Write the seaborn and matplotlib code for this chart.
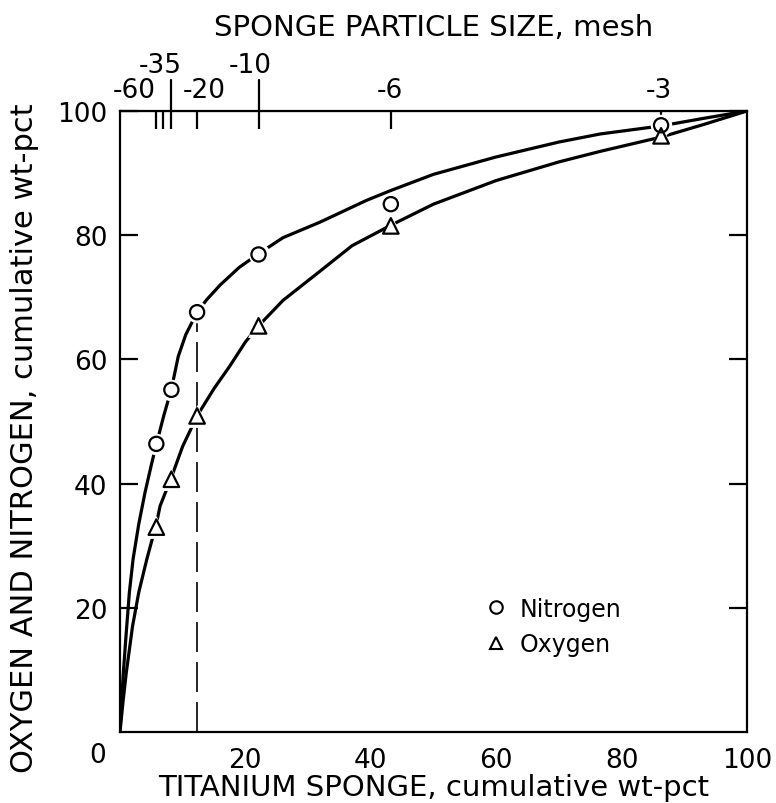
import matplotlib
matplotlib.use("Agg")
import matplotlib.pyplot as plt
import seaborn as sns
from matplotlib.lines import Line2D

# Measured points: cumulative wt-pct of sponge retained at each sieve
sponge_pct = [5.8, 8.2, 12.3, 22.1, 43.2, 86.3]
nitrogen_pct = [46.4, 55.1, 67.6, 76.9, 85.0, 97.7]
oxygen_pct = [33.0, 40.7, 50.9, 65.4, 81.5, 96.0]

# Hand drawn curves
nitrogen_curve_x = [0, 0.5, 1.0, 1.5, 2.1, 3.0, 4.0, 5.0, 5.8, 7.0, 8.2, 9.3, 10.5,
                    12.3, 13.9, 16, 19, 22.1, 26, 31.9, 39.3, 43.2, 50, 60, 70,
                    76.6, 86.3, 93, 100]
nitrogen_curve_y = [0, 9, 16, 22.5, 27.9, 33.5, 38.6, 43, 46.3, 51, 55.2, 60.5, 64.0,
                    67.6, 69.7, 72, 74.8, 77, 79.6, 82.1, 85.6, 87.2, 89.8, 92.6, 95.0,
                    96.3, 97.6, 98.8, 100]
oxygen_curve_x = [0, 0.5, 1.0, 2.0, 3.0, 4.3, 5.8, 6.4, 8.2, 10, 12.3, 15, 17.5, 20,
                  22.1, 26, 31.9, 37, 43.2, 50, 60, 70, 76.6, 86.3, 93, 100]
oxygen_curve_y = [0, 5, 9.5, 17, 22.5, 27.9, 33.5, 36.4, 41, 46, 50.9, 55.3, 58.9, 62.8,
                  65.4, 69.5, 74.2, 78.3, 81.6, 85.0, 88.8, 91.8, 93.5, 95.8, 97.8, 100]

# Top axis: sponge particle size in mesh
mesh_ticks = [5.8, 6.9, 8.2, 12.3, 22.1, 43.2, 86.3]
long_ticks = [8.2, 22.1]
mesh_labels = ['-60', '-35', '-20', '-10', '-6', '-3']
mesh_label_x = [2.3, 6.4, 13.4, 20.7, 43.0, 86.0]
mesh_label_row = [0, 1, 0, 1, 0, 0]

x_ticks = [20, 40, 60, 80, 100]
y_ticks = [20, 40, 60, 80, 100]

sns.set_style("white")
plt.rcParams['font.family'] = ['DejaVu Sans']
plt.rcParams['text.color'] = 'black'
plt.rcParams['axes.labelcolor'] = 'black'
plt.rcParams['xtick.color'] = 'black'
plt.rcParams['ytick.color'] = 'black'

fig = plt.figure(figsize=(7.76, 8.04), dpi=100)
ax = fig.add_axes([0.1546, 0.0883, 0.808, 0.7724])

# curves
sns.lineplot(x=nitrogen_curve_x, y=nitrogen_curve_y, color='black', lw=2.3,
             sort=False, estimator=None, ax=ax, zorder=2)
sns.lineplot(x=oxygen_curve_x, y=oxygen_curve_y, color='black', lw=2.3,
             sort=False, estimator=None, ax=ax, zorder=2)

# dashed line at -20 mesh
ax.vlines(sponge_pct[2], 0, nitrogen_pct[2], colors='black', lw=1.2,
          linestyles=(0, (18, 6)), zorder=1)

# white halo so the curves break around the points
sns.scatterplot(x=sponge_pct, y=nitrogen_pct, marker='o', s=240, color='white',
                linewidth=0, ax=ax, zorder=3)
sns.scatterplot(x=sponge_pct, y=oxygen_pct, marker='^', s=270, color='white',
                linewidth=0, ax=ax, zorder=3)
sns.scatterplot(x=sponge_pct, y=nitrogen_pct, marker='o', s=105, facecolor='none',
                edgecolor='black', linewidth=1.6, ax=ax, zorder=4)
sns.scatterplot(x=sponge_pct, y=oxygen_pct, marker='^', s=125, facecolor='none',
                edgecolor='black', linewidth=1.6, ax=ax, zorder=4)

ax.set_xlim(0, 100)
ax.set_ylim(0, 100)

# axes look
for side in ['left', 'right', 'top', 'bottom']:
    ax.spines[side].set_visible(True)
    ax.spines[side].set_linewidth(1.6)
    ax.spines[side].set_color('black')

ax.set_xticks(x_ticks)
ax.set_xticklabels([str(v) for v in x_ticks], fontsize=19)
ax.set_yticks(y_ticks)
ax.set_yticklabels([str(v) for v in y_ticks], fontsize=19)
ax.tick_params(axis='x', length=0, pad=11)
ax.tick_params(axis='y', which='both', direction='in', length=13, width=1.6,
               left=True, right=True, pad=9)
ax.text(-0.035, -0.037, '0', transform=ax.transAxes, fontsize=19,
        ha='center', va='center')

# top mesh axis
top = ax.secondary_xaxis('top')
top.set_xticks(mesh_ticks)
top.set_xticklabels([''] * len(mesh_ticks))
top.tick_params(direction='in', length=13, width=1.6)
for xv in long_ticks:
    ax.plot([xv, xv], [1.0, 1.05], color='black', lw=1.6,
            transform=ax.get_xaxis_transform(), clip_on=False)
for lab, xv, row in zip(mesh_labels, mesh_label_x, mesh_label_row):
    ax.annotate(lab, xy=(xv, 1.0), xycoords=ax.get_xaxis_transform(),
                xytext=(0, 15 + 18 * row), textcoords='offset points',
                ha='center', va='center', fontsize=19)

ax.text(0.5, 1.135, 'SPONGE PARTICLE SIZE, mesh', transform=ax.transAxes,
        ha='center', va='center', fontsize=21)
ax.set_xlabel('TITANIUM SPONGE, cumulative wt-pct', fontsize=21, va='baseline')
ax.xaxis.set_label_coords(0.5, -0.102)
ax.set_ylabel('OXYGEN AND NITROGEN, cumulative wt-pct', fontsize=22, va='center')
ax.yaxis.set_label_coords(-0.152, 0.475)

# legend
handles = [Line2D([], [], ls='none', marker='o', markersize=9, markerfacecolor='none',
                  markeredgecolor='black', markeredgewidth=1.5, label='Nitrogen'),
           Line2D([], [], ls='none', marker='^', markersize=9, markerfacecolor='none',
                  markeredgecolor='black', markeredgewidth=1.5, label='Oxygen')]
ax.legend(handles=handles, loc='center left', bbox_to_anchor=(0.584, 0.17),
          frameon=False, fontsize=17, handlelength=0.8, handletextpad=0.6,
          borderpad=0, borderaxespad=0, labelspacing=0.5)

plt.savefig('out.png', dpi=100)
